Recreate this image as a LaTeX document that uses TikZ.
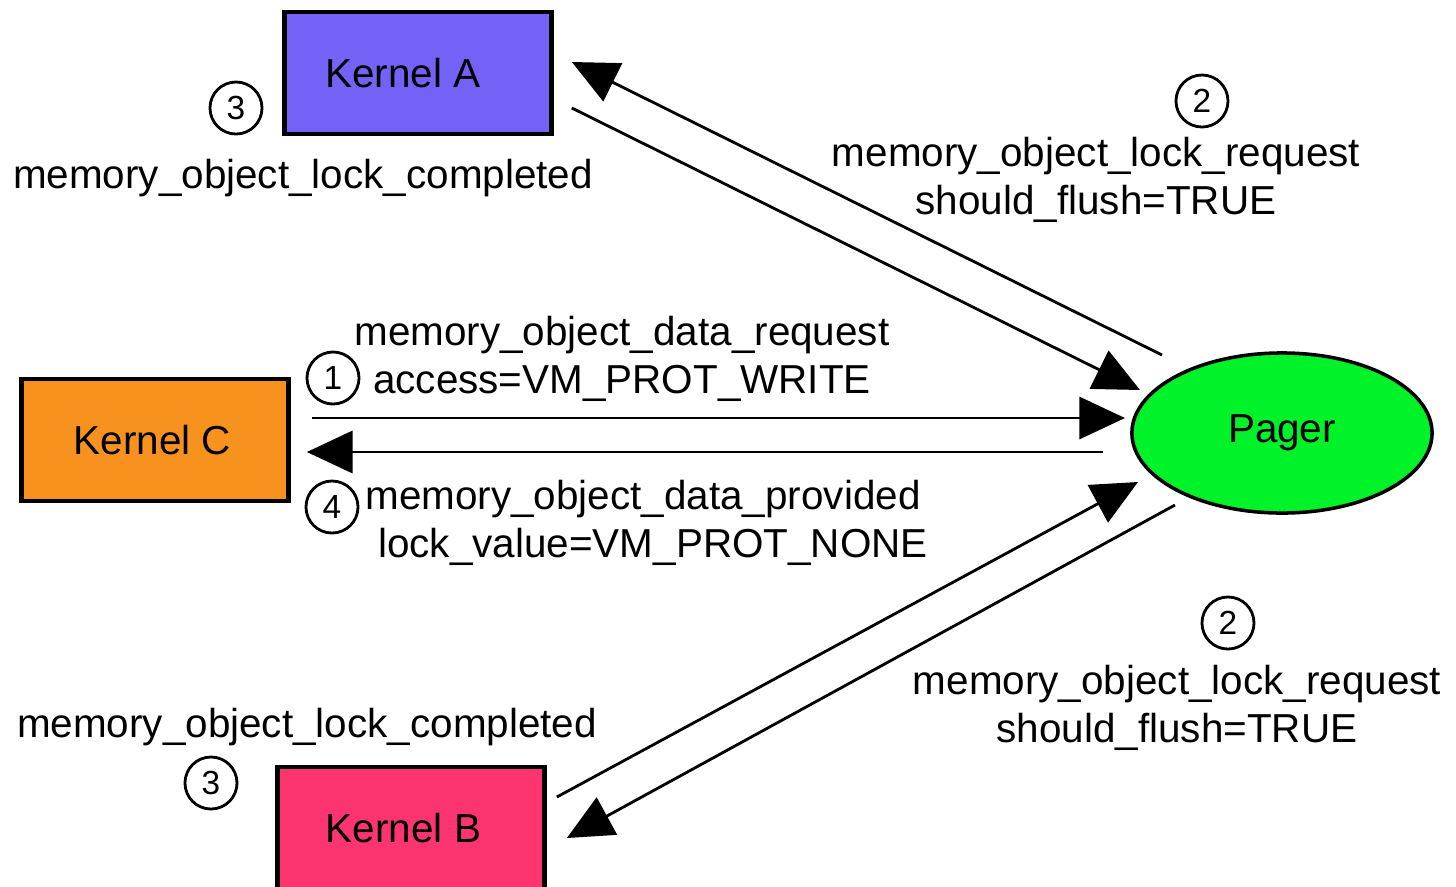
\documentclass[tikz,border=0pt]{standalone}
\usepackage{fontspec}
\setmainfont{Liberation Sans}
\usetikzlibrary{arrows.meta,shapes.geometric}
\definecolor{kernelA}{RGB}{116,98,247}
\definecolor{kernelB}{RGB}{252,52,112}
\definecolor{kernelC}{RGB}{247,146,31}
\definecolor{pager}{RGB}{0,242,40}
\begin{document}
\begin{tikzpicture}[x=0.01cm,y=-0.01cm,>={Triangle[length=13pt,width=12pt]},line width=0.8pt,
    font=\fontsize{11.5}{13.7}\selectfont,
    kbox/.style={draw,line width=1.3pt,minimum width=2.67cm,minimum height=1.22cm,inner sep=0pt},
    num/.style={circle,draw,line width=0.8pt,minimum size=0.52cm,inner sep=0pt,font=\fontsize{9.5}{9.5}\selectfont},
    lbl/.style={align=center,inner sep=0pt}]
    \useasboundingbox (0,0) rectangle (1456,887);
    \node[kbox,fill=kernelA] (ka) at (418,73) {Kernel A\kern0.3cm};
    \node[kbox,fill=kernelC] (kc) at (155,440) {Kernel C\kern0.05cm};
    \node[kbox,fill=kernelB] (kb) at (411,828) {Kernel B\kern0.15cm};
    \node[ellipse,draw,fill=pager,line width=1pt,minimum width=3cm,minimum height=1.6cm,inner sep=0pt] (pg) at (1282,433) {Pager};

    % lock request / completed with Kernel A
    \draw[->] ([shift={(-120,-78)}]pg.center) -- ([shift={(18,-11)}]ka.east);
    \draw[->] ([shift={(18,35)}]ka.east) -- ([shift={(-142,-43)}]pg.center);
    % data request / provided with Kernel C
    \draw[->] ([shift={(21,-22)}]kc.east) -- ([shift={(-157,-15)}]pg.center);
    \draw[->] ([shift={(-179,19)}]pg.center) -- ([shift={(16,12)}]kc.east);
    % lock request / completed with Kernel B
    \draw[->] ([shift={(10,-31)}]kb.east) -- ([shift={(-144,49)}]pg.center);
    \draw[->] ([shift={(-107,72)}]pg.center) -- ([shift={(20,10)}]kb.east);

    \node[num] (n3a) at (236,108) {3};
    \node[lbl] (lca) at (303,178) {memory\_object\_lock\_completed};
    \node[num] (n2a) at (1202,101) {2};
    \node[lbl] (lra) at (1096,180) {memory\_object\_lock\_request\\should\_flush=TRUE};
    \node[num] (n1) at (333,378) {1};
    \node[lbl] (dreq) at (622,359) {memory\_object\_data\_request\\access=VM\_PROT\_WRITE};
    \node[num] (n4) at (332,507) {4};
    \node[lbl] (dprov) at (643,523) {memory\_object\_data\_provided\\\hspace{0.2cm}lock\_value=VM\_PROT\_NONE};
    \node[num] (n2b) at (1228,623) {2};
    \node[lbl] (lrb) at (1177,708) {memory\_object\_lock\_request\\should\_flush=TRUE};
    \node[lbl] (lcb) at (307,727) {memory\_object\_lock\_completed};
    \node[num] (n3b) at (211,783) {3};
\end{tikzpicture}
\end{document}
